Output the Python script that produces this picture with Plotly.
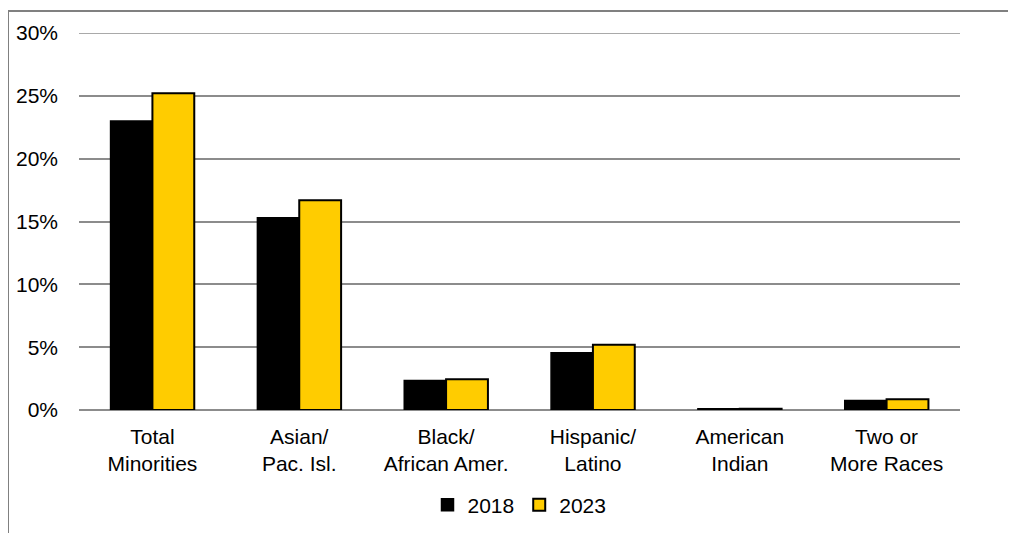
import plotly.graph_objects as go

categories = ["Total<br>Minorities", "Asian/<br>Pac. Isl.", "Black/<br>African Amer.",
              "Hispanic/<br>Latino", "American<br>Indian", "Two or<br>More Races"]
values_2018 = [23.0, 15.3, 2.35, 4.55, 0.1, 0.75]
values_2023 = [25.2, 16.7, 2.45, 5.2, 0.1, 0.85]
y_ticks = [0, 5, 10, 15, 20, 25, 30]
y_tick_labels = ["0%", "5%", "10%", "15%", "20%", "25%", "30%"]

FONT = "Liberation Sans, Arial, sans-serif"
FS = 21
GRID = "#8c8c8c"

fig = go.Figure()
fig.add_trace(go.Bar(name="2018", x=categories, y=values_2018,
                     marker=dict(color="#000000", line=dict(color="#000000", width=1.5))))
fig.add_trace(go.Bar(name="2023", x=categories, y=values_2023,
                     marker=dict(color="#FFCC00", line=dict(color="#000000", width=2))))

# page has an 8px body margin; work in figure coordinates (page - 8)
OFF = 8
W, H = 1016 - OFF, 533 - OFF
L, R, T, B = 79 - OFF, 960 - OFF, 33 - OFF, 410 - OFF
fig.update_layout(
    width=W, height=H,
    margin=dict(l=L, r=W - R, t=T, b=H - B, autoexpand=False),
    paper_bgcolor="white", plot_bgcolor="white",
    barmode="group", bargap=0.43, bargroupgap=0,
    font=dict(family=FONT, size=FS, color="#000000"),
    showlegend=True,
    legend=dict(orientation="h", x=0.5, xanchor="center", y=(B - (505 - OFF)) / (B - T), yanchor="middle",
                font=dict(size=FS), traceorder="normal"),
    xaxis=dict(showgrid=False, showline=False, ticks="", tickfont=dict(size=FS),
               ticklabelstandoff=12, automargin=False),
    yaxis=dict(range=[0, max(y_ticks)], tickvals=y_ticks, ticktext=y_tick_labels,
               showgrid=True, gridcolor=GRID, gridwidth=1.5,
               zeroline=True, zerolinecolor=GRID, zerolinewidth=1.5,
               showline=False, ticks="", ticklabelstandoff=20, tickfont=dict(size=FS),
               automargin=False),
)

# top gridline (Plotly skips the grid line that sits on the range edge)
fig.add_shape(type="line", xref="paper", yref="y", x0=0, x1=1, y0=max(y_ticks), y1=max(y_ticks),
              line=dict(color=GRID, width=1.5), layer="below")

# outer chart frame (partially visible)
fx0 = (8 - OFF - L) / (R - L)
fy_top = (B - (11 - OFF)) / (B - T)
fig.add_shape(type="line", xref="paper", yref="paper", x0=fx0, x1=2, y0=fy_top, y1=fy_top,
              line=dict(color="#808080", width=2))
fig.add_shape(type="line", xref="paper", yref="paper", x0=fx0, x1=fx0, y0=fy_top, y1=-1,
              line=dict(color="#808080", width=2))

fig.write_html("out.html")
